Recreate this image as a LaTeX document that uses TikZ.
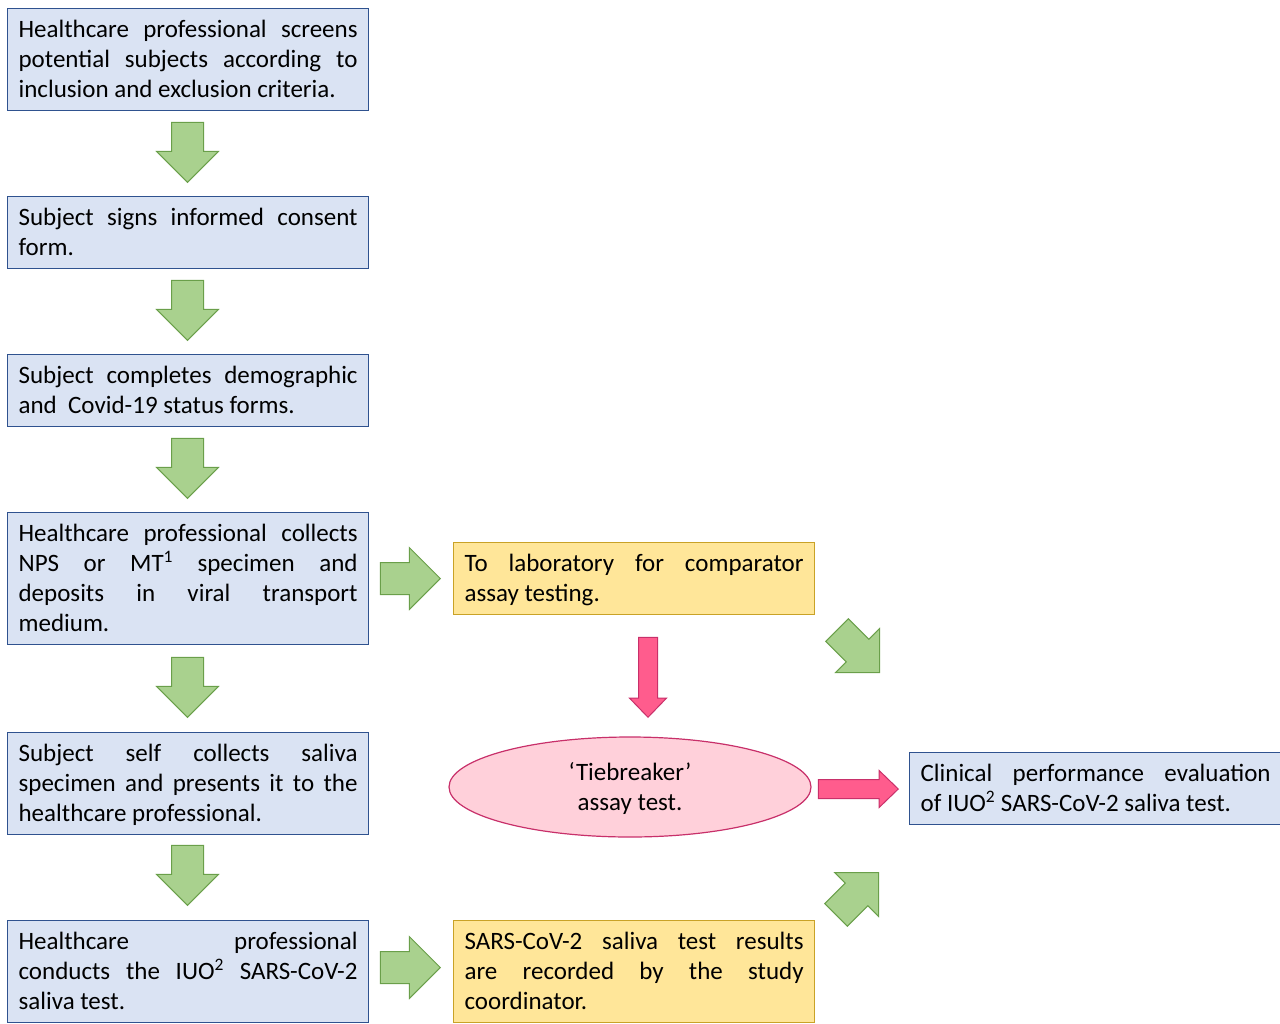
\documentclass[tikz,border=0pt]{standalone}
\usepackage{fontspec}
\setmainfont{Carlito}
\usetikzlibrary{shapes.geometric,shapes.arrows}
\definecolor{bluefill}{HTML}{DAE3F3}
\definecolor{blueline}{HTML}{2F528F}
\definecolor{yelfill}{HTML}{FFE699}
\definecolor{yelline}{HTML}{C9A227}
\definecolor{grnfill}{HTML}{A9D18E}
\definecolor{grnline}{HTML}{6A9F4A}
\definecolor{pnkfill}{HTML}{FF5C8D}
\definecolor{pnkline}{HTML}{C8306A}
\definecolor{ellfill}{HTML}{FFD0DA}
\definecolor{ellline}{HTML}{C8306A}
\newcommand\mys{\rule[-7pt]{0pt}{30pt}}
\tikzset{
  txt/.style={font=\fontsize{25}{30}\selectfont, inner xsep=11, inner ysep=6,
    text width=339, align=justify, anchor=north west, line width=1.2},
  bluebox/.style={txt, draw=blueline, fill=bluefill},
  yelbox/.style={txt, draw=yelline, fill=yelfill},
  garrow/.style={single arrow, draw=grnline, fill=grnfill, line width=1,
    minimum height=60, single arrow head extend=15,
    single arrow tip angle=90, inner xsep=0, inner ysep=15.5, anchor=tip},
  parrow/.style={single arrow, draw=pnkline, fill=pnkfill, line width=1,
    minimum height=80, single arrow head extend=9,
    single arrow tip angle=88, inner xsep=0, inner ysep=9, anchor=tip},
}
\begin{document}
\begin{tikzpicture}[x=1pt,y=-1pt]
\useasboundingbox (0,0) rectangle (1280,1023);
\clip (0,0) rectangle (1280,1023);
\node[bluebox] (b1) at (7,8) {\mys Healthcare professional screens\linebreak potential subjects according to\linebreak inclusion and exclusion criteria.\mys};
\node[bluebox] (b2) at (7,196) {\mys Subject signs informed consent\linebreak form.\mys};
\node[bluebox] (b3) at (7,354) {\mys Subject completes demographic\linebreak and\ \ Covid-19 status forms.\mys};
\node[bluebox] (b4) at (7,512) {\mys Healthcare professional collects\linebreak NPS or MT\textsuperscript{1} specimen and\linebreak deposits in viral transport\linebreak medium.\mys};
\node[bluebox] (b5) at (7,732) {\mys Subject self collects saliva\linebreak specimen and presents it to the\linebreak healthcare professional.\mys};
\node[bluebox] (b6) at (7,920) {\mys Healthcare professional\linebreak conducts the IUO\textsuperscript{2} SARS-CoV-2\linebreak saliva test.\mys};
\node[yelbox] (y1) at (453,542) {\mys To laboratory for comparator\linebreak assay testing.\mys};
\node[yelbox] (y2) at (453,920) {\mys SARS-CoV-2 saliva test results\linebreak are recorded by the study\linebreak coordinator.\mys};
\node[ellipse, draw=ellline, fill=ellfill, line width=1.2, minimum width=362, minimum height=100,
  align=center, font=\fontsize{25}{30}\selectfont] (tb) at (630,787) {\mys‘Tiebreaker’\\\mys assay test.};
\node[bluebox, text width=350] (cl) at (909,752) {\mys Clinical performance evaluation\linebreak of IUO\textsuperscript{2} SARS-CoV-2 saliva test.\mys};
% green down arrows
\node[garrow, rotate=-90] (d1) at (187.5,183) {};
\node[garrow, rotate=-90] (d2) at (187.5,341) {};
\node[garrow, rotate=-90] (d3) at (187.5,499) {};
\node[garrow, rotate=-90] (d4) at (187.5,718) {};
\node[garrow, rotate=-90] (d5) at (187.5,906) {};
% green right arrows
\node[garrow] (r1) at (441,578.5) {};
\node[garrow] (r2) at (441,967.5) {};
% diagonal arrows
\node[garrow, rotate=-45] (g1) at (880,673) {};
\node[garrow, rotate=45] (g2) at (879,872) {};
% pink arrows
\node[parrow, rotate=-90] (p1) at (648,718) {};
\node[parrow] (p2) at (899,789) {};
\end{tikzpicture}
\end{document}
